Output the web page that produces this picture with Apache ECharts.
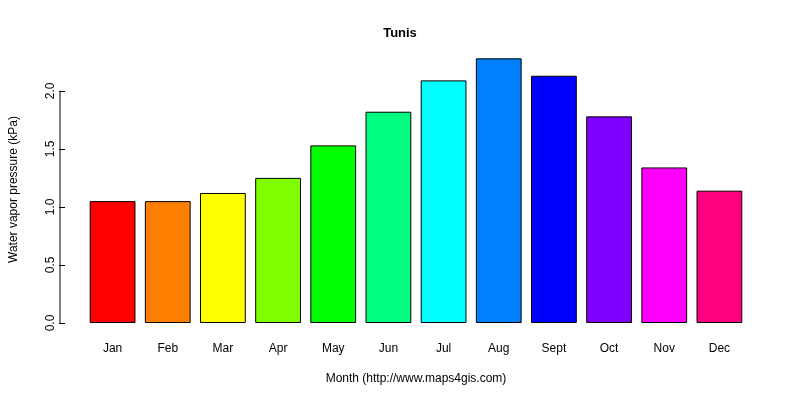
<!DOCTYPE html><html><head><meta charset="utf-8"><script src="https://cdn.jsdelivr.net/npm/echarts@6/dist/echarts.min.js"></script></head><body style="margin:0"><div id="c" style="width:800px;height:400px"></div><script>
const months=['Jan','Feb','Mar','Apr','May','Jun','Jul','Aug','Sept','Oct','Nov','Dec'];
const values=[1.05,1.05,1.12,1.25,1.53,1.82,2.09,2.28,2.13,1.78,1.34,1.14];
const colors=['#FF0000','#FF8000','#FFFF00','#80FF00','#00FF00','#00FF80','#00FFFF','#0080FF','#0000FF','#8000FF','#FF00FF','#FF0080'];
const ch=echarts.init(document.getElementById('c'));
ch.setOption({animation:false,backgroundColor:'#fff',
title:{text:'Tunis',left:'center',top:22,textStyle:{fontFamily:'Arial',fontSize:13,fontWeight:'bold',color:'#000'}},
grid:{left:80,width:667,top:56,bottom:77},
xAxis:{type:'category',data:months,axisLine:{show:false},axisTick:{show:false},
 axisLabel:{margin:20,fontFamily:'Arial',fontSize:12,color:'#000'},
 name:'Month (http://www.maps4gis.com)',nameLocation:'middle',nameGap:50,nameTextStyle:{fontFamily:'Arial',fontSize:12,color:'#000'}},
yAxis:{type:'value',min:0,max:2.3,interval:0.5,offset:20,splitLine:{show:false},
 axisLine:{show:false},axisTick:{show:true,length:6,lineStyle:{color:'#000'}},
 axisLabel:{rotate:90,showMaxLabel:false,fontFamily:'Arial',fontSize:12,color:'#000',formatter:v=>v.toFixed(1)},
 name:'Water vapor pressure (kPa)',nameLocation:'middle',nameGap:45,nameTextStyle:{fontFamily:'Arial',fontSize:12,color:'#000'}},
series:[{type:'bar',barCategoryGap:'17%',data:values.map((v,i)=>({value:v,itemStyle:{color:colors[i],borderColor:'#000',borderWidth:1}})),
 markLine:{silent:true,symbol:'none',label:{show:false},lineStyle:{color:'#000',type:'solid',width:1},data:[]}}],
graphic:[]});
const p0=ch.convertToPixel({yAxisIndex:0},0),p2=ch.convertToPixel({yAxisIndex:0},2);
ch.setOption({graphic:[{type:'line',shape:{x1:60,y1:p0,x2:60,y2:p2},style:{stroke:'#000',lineWidth:1}}]});
</script></body></html>
